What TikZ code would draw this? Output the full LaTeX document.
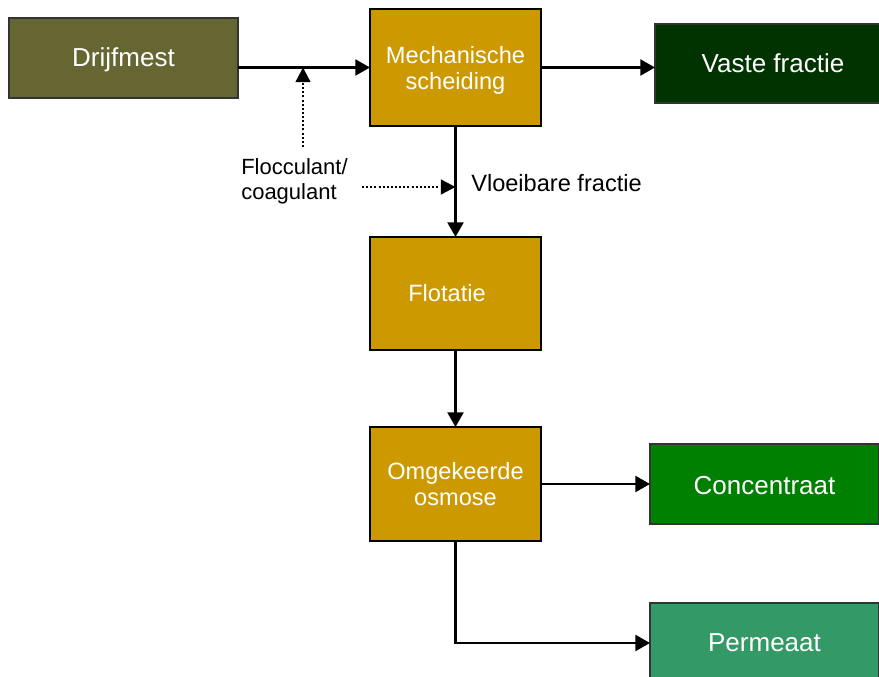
\documentclass[tikz,border=0pt]{standalone}
\usepackage{fontspec}
\setmainfont{Liberation Sans}
\usetikzlibrary{arrows.meta,calc}
\definecolor{olivebox}{HTML}{666633}
\definecolor{procbox}{HTML}{CC9900}
\definecolor{vastebox}{HTML}{003300}
\definecolor{concbox}{HTML}{008000}
\definecolor{permbox}{HTML}{339966}
\tikzset{
  bigfont/.style={font=\fontsize{19.5pt}{23pt}\selectfont},
  midfont/.style={font=\fontsize{17.7pt}{19.5pt}\selectfont},
  smallfont/.style={font=\fontsize{16.5pt}{19pt}\selectfont},
  endbox/.style={draw=black!80, line width=0.9pt, text=white, bigfont,
    inner sep=0pt, outer sep=0pt, minimum width=171.75pt, minimum height=60pt},
  stepbox/.style={draw=black, line width=1.8pt, fill=procbox, text=white, midfont,
    inner sep=0pt, outer sep=0pt, minimum width=128.25pt, align=center},
  intext/.style={text=white, inner sep=0pt, align=center},
  arr/.style={line width=1.7pt, -{Triangle[length=11pt,width=12pt]}},
  dotarr/.style={line width=1.8pt, dash pattern=on 1.5pt off 1.6pt,
    -{Triangle[length=11pt,width=11pt]}},
  lbl/.style={text=black, anchor=west, inner sep=0pt, align=left}
}
\begin{document}
\begin{tikzpicture}[x=0.75pt, y=-0.75pt]
\useasboundingbox (0,0) rectangle (879,677);
\clip (0,0) rectangle (879,677);
\fill[white] (0,0) rectangle (879,677);
% boxes
\node[endbox, fill=olivebox] (drijf) at (123.5,58) {};
\node[intext, bigfont] (drijft) at (123.5,60) {Drijfmest};
\node[stepbox, minimum height=87.75pt] (mech) at (455.5,67.5) {};
\node[intext, midfont] (mecht) at (455.5,70.5) {Mechanische\\scheiding};
\node[endbox, fill=vastebox, minimum width=177pt, minimum height=59.25pt] (vaste) at (773,63.5) {Vaste fractie};
\node[stepbox, minimum height=84.75pt] (flot) at (455.5,293.5) {};
\node[intext, midfont] (flott) at (447,293) {Flotatie};
\node[stepbox, minimum height=85.5pt] (omg) at (455.5,484) {Omgekeerde\\osmose};
\node[endbox, fill=concbox] (conc) at (764.5,484) {};
\node[intext, bigfont] (conct) at (764.5,485.5) {Concentraat};
\node[endbox, fill=permbox] (perm) at (764.5,643) {Permeaat};
% labels
\node[lbl, smallfont] (floc) at (241,181) {Flocculant/\\coagulant};
\node[lbl, midfont] (vloei) at (471,183) {Vloeibare fractie};
% connectors
\draw[arr] (drijf.east |- mech.west) -- (mech.west);
\draw[arr] (mech.east) -- (mech.east -| vaste.west);
\draw[arr] (mech.south) -- (flot.north);
\draw[arr] (flot.south) -- (omg.north);
\draw[arr] (omg.east) -- (conc.west);
\draw[arr] (omg.south) |- (perm.west);
\coordinate (j1) at (303,67.5);
\coordinate (d1) at (303,147);
\draw[dotarr] (d1) -- (j1);
\coordinate (d2) at (362,187);
\draw[dotarr] (d2) -- (d2 -| mech.south);
\end{tikzpicture}
\end{document}
